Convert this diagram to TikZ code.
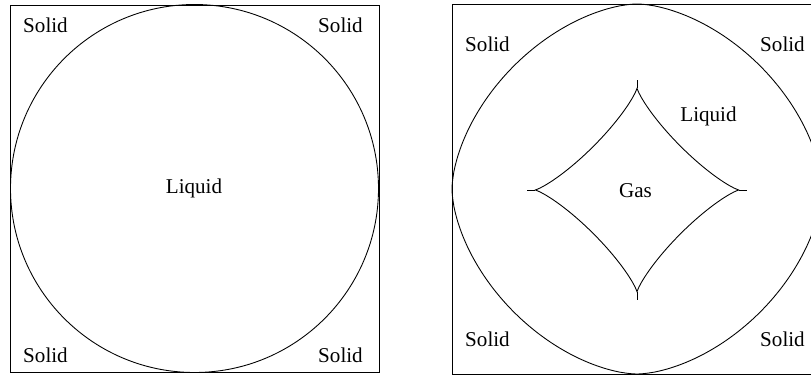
\documentclass[tikz,border=0pt]{standalone}
\usepackage{fontspec}
\setmainfont{Liberation Serif}
\usepackage{tikz}

\begin{document}
\begin{tikzpicture}[x=0.02cm, y=0.02cm,
            fase/.style={font=\fontsize{12}{14}\selectfont, inner sep=1pt},
            borde/.style={draw=black, line width=0.5pt},
            curva/.style={draw=black, line width=0.5pt}]

            \clip (0,0) rectangle (811,375);

            % panel izquierdo
            \draw[borde] (10,3) rectangle (379,370);
            \draw[curva] (194.5,186.5) circle (184);

            \node[fase] (sNO) at (45.5,350) {Solid};
            \node[fase] (sNE) at (340.5,350) {Solid};
            \node[fase] (sSO) at (45.5,20) {Solid};
            \node[fase] (sSE) at (340.5,20) {Solid};
            \node[fase] (liq) at (194,187) {Liquid};

            % panel derecho
            \draw[borde] (452,1) rectangle (822,371);
            \draw[curva] plot[domain=0.5:359.5, samples=360]
                ({637+185*sign(cos(\x))*abs(cos(\x))^1.176}, {186+185*sign(sin(\x))*abs(sin(\x))^1.176}) -- cycle;
            \draw[curva] plot[domain=0.5:359.5, samples=360]
                ({637+102*sign(cos(\x))*abs(cos(\x))^2.45}, {185+102*sign(sin(\x))*abs(sin(\x))^2.45}) -- cycle;

            \coordinate (gN) at (637,287);
            \coordinate (gS) at (637,83);
            \coordinate (gO) at (535,185);
            \coordinate (gE) at (739,185);
            \draw[curva] (gN) -- ++(0,8);
            \draw[curva] (gS) -- ++(0,-8);
            \draw[curva] (gO) -- ++(-8,0);
            \draw[curva] (gE) -- ++(8,0);

            \node[fase] (tNO) at (487.5,331) {Solid};
            \node[fase] (tNE) at (782.5,331) {Solid};
            \node[fase] (tSO) at (487.5,35.5) {Solid};
            \node[fase] (tSE) at (782.5,35.5) {Solid};
            \node[fase] (liq2) at (708.5,258.5) {Liquid};
            \node[fase] (gas) at (635.5,184.5) {Gas};
        \end{tikzpicture}
\end{document}
